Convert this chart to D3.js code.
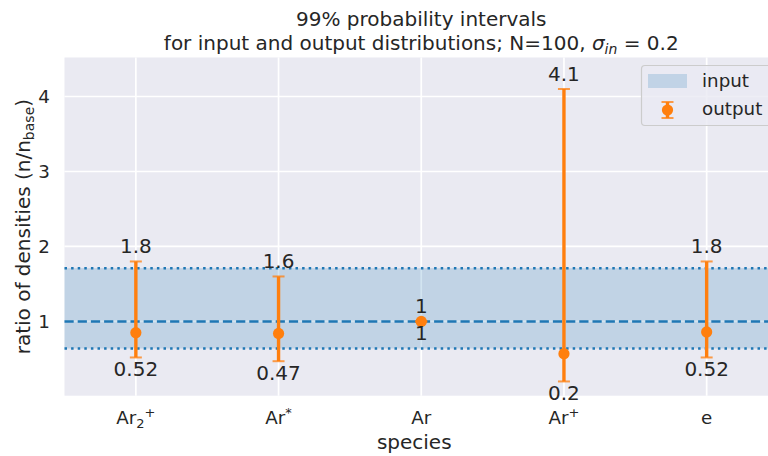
<!DOCTYPE html>
<html>
<head>
<meta charset="utf-8">
<script src="https://cdn.jsdelivr.net/npm/d3@7/dist/d3.min.js"></script>
<style>
  html, body { margin: 0; padding: 0; background: #ffffff; }
  svg { display: block; }
  text { font-family: "DejaVu Sans", sans-serif; fill: #262626; }
</style>
</head>
<body>
<svg id="chart" width="768" height="456"></svg>
<script>
// Species along the x axis (plain names; rich labels are built below)
const species = ["Ar2+", "Ar*", "Ar", "Ar+", "e"];
// Output distribution: median and 99% interval bounds
const outMid = [0.85, 0.84, 1.0, 0.57, 0.86];
const outLow = [0.52, 0.47, 1, 0.2, 0.52];
const outHigh = [1.8, 1.6, 1, 4.1, 1.8];
// Labels printed beside each interval end
const lowLabels = ["0.52", "0.47", "1", "0.2", "0.52"];
const highLabels = ["1.8", "1.6", "1", "4.1", "1.8"];
// Input distribution: centre line and 99% band
const inputCenter = 1;
const inputBand = [0.64, 1.71];
const yTicks = [1, 2, 3, 4];

const W = 768, H = 456;
const margin = { left: 64.5, right: 778, top: 57.5, bottom: 395.7 };
const orange = "#ff7f0e", blue = "#1f77b4";

const svg = d3.select("#chart");

const x = d3.scaleLinear().domain([-0.5, 4.5]).range([margin.left, margin.right]);
const y = d3.scaleLinear().domain([0.01, 4.52]).range([margin.bottom, margin.top]);

// Plot background
svg.append("rect")
  .attr("x", margin.left).attr("y", margin.top)
  .attr("width", margin.right - margin.left)
  .attr("height", margin.bottom - margin.top)
  .attr("fill", "#eaeaf2");

const plot = svg.append("g");

// Grid lines
plot.append("g").selectAll("line").data(yTicks).join("line")
  .attr("x1", margin.left).attr("x2", margin.right)
  .attr("y1", d => y(d)).attr("y2", d => y(d))
  .attr("stroke", "#ffffff").attr("stroke-width", 1.7);
plot.append("g").selectAll("line").data(species.map((d, i) => i)).join("line")
  .attr("x1", d => x(d)).attr("x2", d => x(d))
  .attr("y1", margin.top).attr("y2", margin.bottom)
  .attr("stroke", "#ffffff").attr("stroke-width", 1.7);

// Input band
plot.append("rect")
  .attr("x", margin.left).attr("width", margin.right - margin.left)
  .attr("y", y(inputBand[1])).attr("height", y(inputBand[0]) - y(inputBand[1]))
  .attr("fill", blue).attr("fill-opacity", 0.2);
plot.selectAll(".bound").data(inputBand).join("line")
  .attr("class", "bound")
  .attr("x1", margin.left).attr("x2", margin.right)
  .attr("y1", d => y(d)).attr("y2", d => y(d))
  .attr("stroke", blue).attr("stroke-width", 2.5)
  .attr("stroke-dasharray", "2.5,4.1");
plot.append("line")
  .attr("x1", margin.left).attr("x2", margin.right)
  .attr("y1", y(inputCenter)).attr("y2", y(inputCenter))
  .attr("stroke", blue).attr("stroke-width", 2.5)
  .attr("stroke-dasharray", "9.2,4");

// Output error bars
const eb = plot.append("g").selectAll("g").data(species.map((d, i) => i)).join("g");
eb.append("line")
  .attr("x1", i => x(i)).attr("x2", i => x(i))
  .attr("y1", i => y(outLow[i])).attr("y2", i => y(outHigh[i]))
  .attr("stroke", orange).attr("stroke-width", 3.4);
eb.selectAll(".cap").data(i => [[i, outLow[i]], [i, outHigh[i]]]).join("line")
  .attr("class", "cap")
  .attr("x1", d => x(d[0]) - 6).attr("x2", d => x(d[0]) + 6)
  .attr("y1", d => y(d[1])).attr("y2", d => y(d[1]))
  .attr("stroke", orange).attr("stroke-width", 2).attr("stroke-opacity", 0.75);
eb.append("circle")
  .attr("cx", i => x(i)).attr("cy", i => y(outMid[i])).attr("r", 5.6)
  .attr("fill", orange);

// Interval end labels
eb.append("text")
  .attr("x", i => x(i)).attr("y", i => y(outHigh[i]) - 8)
  .attr("text-anchor", "middle").attr("font-size", 20)
  .text(i => highLabels[i]);
eb.append("text")
  .attr("x", i => x(i)).attr("y", i => y(outLow[i]) + 19)
  .attr("text-anchor", "middle").attr("font-size", 20)
  .text(i => lowLabels[i]);

// Y tick labels
svg.append("g").selectAll("text").data(yTicks).join("text")
  .attr("x", 50).attr("y", d => y(d) + 6.5)
  .attr("text-anchor", "end").attr("font-size", 18.3)
  .text(d => d);

// X tick labels with sub/superscripts
const tickParts = {
  "Ar2+": [["Ar", null], ["2", "sub"], ["+", "sup"]],
  "Ar*": [["Ar", null], ["*", "sup"]],
  "Ar": [["Ar", null]],
  "Ar+": [["Ar", null], ["+", "sup"]],
  "e": [["e", null]]
};
species.forEach((s, i) => {
  const t = svg.append("text")
    .attr("x", x(i)).attr("y", 424)
    .attr("text-anchor", "middle").attr("font-size", 18.3);
  tickParts[s].forEach(([str, kind]) => {
    const ts = t.append("tspan").text(str);
    if (kind === "sub") ts.attr("font-size", 13).attr("dy", 4);
    if (kind === "sup") ts.attr("font-size", 13).attr("dy", kind === "sup" && s === "Ar2+" ? -11 : -7);
  });
});

// Axis labels
svg.append("text")
  .attr("x", (margin.left + margin.right) / 2 - 7).attr("y", 449)
  .attr("text-anchor", "middle").attr("font-size", 20)
  .text("species");
const yl = svg.append("text")
  .attr("transform", `translate(30,${(margin.top + margin.bottom) / 2}) rotate(-90)`)
  .attr("text-anchor", "middle").attr("font-size", 20);
yl.append("tspan").text("ratio of densities (n/n");
yl.append("tspan").text("base").attr("font-size", 14).attr("dy", 4);
yl.append("tspan").text(")").attr("dy", -4);

// Title
const tx = (margin.left + margin.right) / 2;
svg.append("text").attr("x", tx).attr("y", 26)
  .attr("text-anchor", "middle").attr("font-size", 20)
  .text("99% probability intervals");
const t2 = svg.append("text").attr("x", tx).attr("y", 50)
  .attr("text-anchor", "middle").attr("font-size", 20);
t2.append("tspan").text("for input and output distributions; N=100, ");
t2.append("tspan").text("σ").attr("font-style", "italic");
t2.append("tspan").text("in").attr("font-style", "italic").attr("font-size", 14).attr("dy", 4);
t2.append("tspan").text(" = 0.2").attr("dy", -4);

// Legend
const lg = svg.append("g");
lg.append("rect")
  .attr("x", 641.5).attr("y", 65.5).attr("width", 140).attr("height", 60)
  .attr("rx", 3.5)
  .attr("fill", "#eaeaf2").attr("fill-opacity", 0.8)
  .attr("stroke", "#cccccc").attr("stroke-width", 1.2);
lg.append("rect")
  .attr("x", 648).attr("y", 74).attr("width", 39).attr("height", 14)
  .attr("fill", blue).attr("fill-opacity", 0.2);
lg.append("text").attr("x", 702).attr("y", 87).attr("font-size", 18.3).text("input");
lg.append("line").attr("x1", 667.5).attr("x2", 667.5).attr("y1", 102).attr("y2", 118)
  .attr("stroke", orange).attr("stroke-width", 3.4);
[102, 118].forEach(v => lg.append("line")
  .attr("x1", 661.5).attr("x2", 673.5).attr("y1", v).attr("y2", v)
  .attr("stroke", orange).attr("stroke-width", 2).attr("stroke-opacity", 0.75));
lg.append("circle").attr("cx", 667.5).attr("cy", 110).attr("r", 5.6).attr("fill", orange);
lg.append("text").attr("x", 702).attr("y", 115).attr("font-size", 18.3).text("output");
</script>
</body>
</html>
